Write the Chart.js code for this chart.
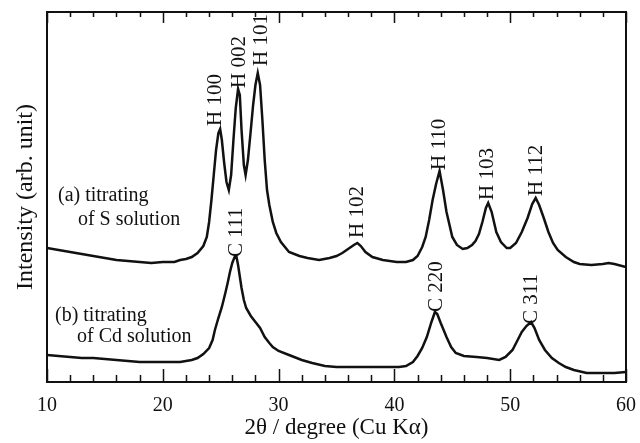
<!DOCTYPE html>
<html>
<head>
<meta charset="utf-8">
<script src="https://cdn.jsdelivr.net/npm/chart.js@4/dist/chart.umd.min.js"></script>
<style>
  body { margin: 0; background: #fff; }
  #wrap { width: 640px; height: 443px; }
</style>
</head>
<body>
<div id="wrap"><canvas id="xrdChart"></canvas></div>
<script>
// 2theta (degree) and intensity (arb. unit)
var thetaA = [10, 11, 12, 13, 14, 15, 16, 17, 18, 19, 20, 21, 21.5, 22, 22.5, 23, 23.5, 23.8, 24.0, 24.2,
    24.4, 24.6, 24.8, 24.95, 25.1, 25.3, 25.5, 25.7, 25.9, 26.1, 26.3, 26.5, 26.65, 26.8, 27.0, 27.15,
    27.35, 27.6, 27.8, 28.0, 28.2, 28.4, 28.6, 28.8, 29.0, 29.2, 29.5, 29.8, 30.2, 30.9, 31.8, 32.5,
    33.5, 34.4, 35.0, 35.5, 36.0, 36.5, 36.8, 37.1, 37.5, 38.1, 39.0, 40.2, 41.0, 41.6, 42.0, 42.4,
    42.7, 43.0, 43.3, 43.6, 43.9, 44.2, 44.5, 45.0, 45.4, 45.9, 46.3, 46.7, 47.0, 47.3, 47.6, 47.9,
    48.1, 48.4, 48.8, 49.2, 49.7, 50.0, 50.5, 51.0, 51.5, 51.9, 52.2, 52.5, 52.9, 53.3, 53.7, 54.1,
    54.8, 55.5, 56.0, 57.0, 58.0, 58.5, 59.0, 60.0];
var intensityA = [134, 132, 130, 128, 126, 124, 122, 121, 120, 119, 120, 120, 122, 123, 125, 129, 136, 145, 160, 182,
    207, 232, 249, 253, 242, 219, 200, 192, 207, 242, 274, 293, 287, 252, 217, 207,
    222, 252, 277, 297, 309, 297, 262, 222, 192, 177, 160, 149, 140, 130, 126, 124,
    122, 124, 126, 129, 133, 137, 139, 136, 130, 125, 122, 120, 120, 122, 126, 135,
    145, 162, 182, 198, 211, 192, 170, 145, 137, 133, 134, 137, 141, 148, 160, 174,
    179, 170, 150, 140, 134, 134, 139, 150, 164, 178, 184, 177, 164, 150, 139, 132,
    125, 120, 118, 117, 118, 119, 118, 115];

var thetaB = [10, 11, 12, 13, 14, 15, 16, 17, 18, 19, 20, 21, 21.5, 22, 22.5, 23, 23.5, 24.0, 24.3, 24.5,
    24.8, 25.1, 25.4, 25.6, 25.8, 26.0, 26.2, 26.35, 26.5, 26.8, 27.0, 27.2, 27.6, 28.0, 28.4, 28.8,
    29.2, 29.5, 30.0, 30.9, 32.0, 32.9, 34.0, 35, 36, 37, 38, 39, 40.4, 41.0, 41.6, 42.0,
    42.4, 42.8, 43.2, 43.5, 43.7, 44.0, 44.5, 44.9, 45.3, 46.0, 47.1, 48.0, 49.05, 49.6, 50.2, 50.6,
    51.0, 51.4, 51.8, 52.1, 52.5, 53.0, 53.6, 54.2, 54.8, 55.5, 56.6, 58.0, 59.0, 60.0];
var intensityB = [27, 26, 25, 24, 24, 23, 22, 21, 20, 20, 20, 20, 20, 21, 22, 24, 28, 34, 42, 52,
    64, 75, 89, 99, 110, 119, 125, 126, 117, 94, 82, 74, 66, 60, 54, 45,
    39, 35, 31, 27, 22, 19, 16, 15, 15, 15, 15, 15, 15, 16, 20, 26,
    34, 45, 60, 70, 68, 59, 45, 35, 29, 26, 25, 24, 22, 25, 32, 41,
    50, 56, 60, 54, 42, 32, 24, 19, 15, 12, 9, 9, 9, 10];

// peak labels: text, 2theta, intensity where the text starts
var peakTexts = ['H 100', 'H 002', 'H 101', 'H 102', 'H 110', 'H 103', 'H 112', 'C 111', 'C 220', 'C 311'];
var peakTheta = [24.57, 26.64, 28.5, 36.8, 43.88, 48.02, 52.24, 26.38, 43.62, 51.8];
var peakStart = [256, 294, 316, 144, 212, 182, 186, 125, 70, 58];

// sample labels
var sampleTexts = ['(a) titrating', 'of S solution', '(b) titrating', 'of Cd solution'];
var sampleTheta = [10.95, 12.67, 10.69, 12.59];
var sampleY = [186, 162, 66, 45];

var xTicks = [10, 20, 30, 40, 50, 60];

function toPoints(xs, ys) {
    return xs.map(function (x, i) { return { x: x, y: ys[i] }; });
}

var serif = '"Liberation Serif", "DejaVu Serif", serif';
var ink = '#111';

// frame, inward ticks and text labels
var decorPlugin = {
    id: 'decor',
    afterDatasetsDraw: function (chart) {
        var ctx = chart.ctx;
        var a = chart.chartArea;
        var xs = chart.scales.x;
        var ys = chart.scales.y;
        ctx.save();
        ctx.strokeStyle = ink;
        ctx.lineWidth = 2;
        ctx.strokeRect(a.left, a.top, a.right - a.left, a.bottom - a.top);

        ctx.lineWidth = 1.5;
        for (var v = 10; v <= 60; v += 2) {
            var px = Math.round(xs.getPixelForValue(v)) + 0.5;
            var len = (v % 10 === 0) ? 13 : 7;
            ctx.beginPath();
            ctx.moveTo(px, a.bottom);
            ctx.lineTo(px, a.bottom - len);
            ctx.moveTo(px, a.top);
            ctx.lineTo(px, a.top + (v % 10 === 0 ? 11 : 5));
            ctx.stroke();
        }

        ctx.fillStyle = ink;
        ctx.font = '21px ' + serif;
        ctx.textAlign = 'left';
        ctx.textBaseline = 'middle';
        peakTexts.forEach(function (t, i) {
            var px = xs.getPixelForValue(peakTheta[i]);
            var py = ys.getPixelForValue(peakStart[i]);
            ctx.save();
            ctx.translate(px, py);
            ctx.rotate(-Math.PI / 2);
            ctx.fillText(t, 0, 0);
            ctx.restore();
        });

        ctx.font = '20px ' + serif;
        sampleTexts.forEach(function (t, i) {
            ctx.fillText(t, xs.getPixelForValue(sampleTheta[i]), ys.getPixelForValue(sampleY[i]));
        });
        ctx.restore();
    }
};

var ctx = document.getElementById('xrdChart').getContext('2d');
var chart = new Chart(ctx, {
    type: 'line',
    data: {
        datasets: [{
            label: '(a)',
            data: toPoints(thetaA, intensityA),
            borderColor: ink,
            borderWidth: 2.5,
            pointRadius: 0,
            tension: 0
        }, {
            label: '(b)',
            data: toPoints(thetaB, intensityB),
            borderColor: ink,
            borderWidth: 2.5,
            pointRadius: 0,
            tension: 0
        }]
    },
    options: {
        responsive: true,
        maintainAspectRatio: false,
        animation: false,
        layout: { padding: { top: 12, right: 13, left: 0, bottom: 0 } },
        plugins: {
            legend: { display: false },
            tooltip: { enabled: false }
        },
        scales: {
            x: {
                type: 'linear',
                min: 10,
                max: 60,
                afterFit: function (s) { s.height = 61; },
                afterBuildTicks: function (s) {
                    s.ticks = xTicks.map(function (v) { return { value: v }; });
                },
                grid: { display: false },
                border: { display: false },
                ticks: {
                    color: ink,
                    padding: 4,
                    maxRotation: 0,
                    font: { family: serif, size: 20 }
                },
                title: {
                    display: true,
                    text: '2θ / degree (Cu Kα)',
                    color: ink,
                    padding: { top: 0, bottom: 1 },
                    font: { family: serif, size: 23 }
                }
            },
            y: {
                min: 0,
                max: 370,
                afterFit: function (s) { s.width = 47; },
                grid: { display: false },
                border: { display: false },
                ticks: { display: false },
                title: {
                    display: true,
                    text: 'Intensity (arb. unit)',
                    color: ink,
                    padding: { top: 11, bottom: 0 },
                    font: { family: serif, size: 24 }
                }
            }
        }
    },
    plugins: [decorPlugin]
});
</script>
</body>
</html>
